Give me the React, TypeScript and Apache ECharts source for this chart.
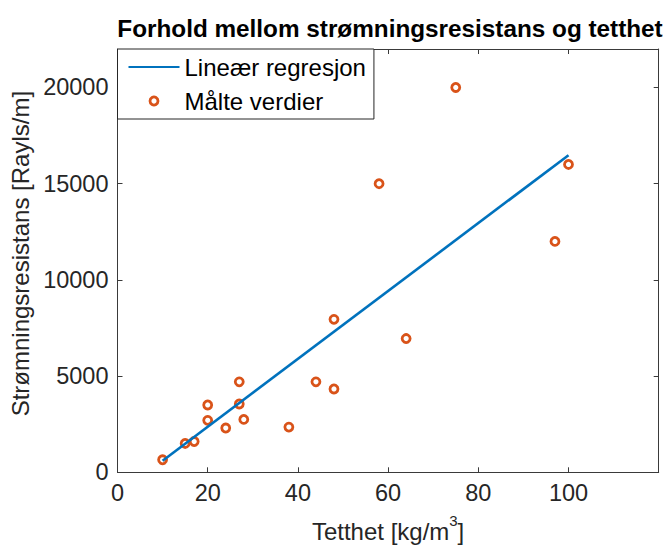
import React, { useEffect, useRef } from 'react';
import * as echarts from 'echarts';

const titleText = 'Forhold mellom strømningsresistans og tetthet';
const xAxisName = 'Tetthet [kg/m';
const yAxisName = 'Strømningsresistans [Rayls/m]';
const seriesNames = ['Lineær regresjon', 'Målte verdier'];

const densities = [10, 15, 17, 20, 20, 24, 27, 27, 28, 38, 44, 48, 48, 58, 64, 75, 97, 100];
const resistances = [650, 1500, 1600, 3500, 2700, 2300, 4700, 3550, 2750, 2350, 4700, 7950, 4330, 15000, 6950, 20000, 12000, 16000];
const regressionX = [10, 100];
const regressionY = [600, 16480];

const xMin = 0;
const xMax = 120;
const xStep = 20;
const xLastLabel = 100;
const yMin = 0;
const yMax = 22000;
const yStep = 5000;
const yLastLabel = 20000;

const FONT = "'Liberation Sans', Arial, Helvetica, sans-serif";
const AX = '#262626';

export default function App() {
  const ref = useRef<HTMLDivElement>(null);
  useEffect(() => {
    if (!ref.current) return;
    const chart = echarts.init(ref.current, null, { renderer: 'svg' });
    const axisLine = { show: true, onZero: false, lineStyle: { color: '#3a3a3a', width: 1 } };
    const axisTick = { show: true, inside: true, length: 5, lineStyle: { color: '#3a3a3a', width: 1 } };
    const option: any = {
      animation: false,
      backgroundColor: '#ffffff',
      grid: { left: 117.5, right: 6.3, top: 49, bottom: 73.7, containLabel: false, outerBoundsMode: 'none' },
      graphic: [
        {
          type: 'text',
          x: 390,
          y: 28,
          style: {
            text: titleText,
            textAlign: 'center',
            textVerticalAlign: 'middle',
            font: `bold 24.3px ${FONT}`,
            fill: '#000000',
          },
        },
      ],
      legend: {
        left: 117.5,
        top: 49,
        orient: 'vertical',
        padding: [5, 8, 5, 10],
        itemGap: 8,
        itemWidth: 51,
        itemHeight: 8,
        backgroundColor: '#ffffff',
        borderColor: AX,
        borderWidth: 1,
        borderRadius: 0,
        textStyle: { fontSize: 24, color: '#000000', lineHeight: 26, fontFamily: FONT },
        data: [
          { name: seriesNames[0], itemStyle: { opacity: 0 } },
          { name: seriesNames[1], icon: 'circle', itemStyle: { color: '#ffffff', borderColor: '#D95319', borderWidth: 2.8 } },
        ],
      },
      xAxis: [
        {
          type: 'value',
          min: xMin,
          max: xMax,
          interval: xStep,
          axisLine,
          axisTick,
          splitLine: { show: false },
          axisLabel: {
            fontSize: 23.5,
            color: AX,
            fontFamily: FONT,
            margin: 9,
            formatter: (v: number) => (v > xLastLabel ? '' : String(v)),
          },
          name: `{n|${xAxisName}}{s|3}{n|]}`,
          nameLocation: 'middle',
          nameGap: 41,
          nameTextStyle: {
            rich: {
              n: { fontSize: 24, color: AX, fontFamily: FONT, lineHeight: 30, verticalAlign: 'bottom' },
              s: { fontSize: 15, color: AX, fontFamily: FONT, lineHeight: 15, verticalAlign: 'top' },
            },
          },
        },
        {
          type: 'value',
          position: 'top',
          min: xMin,
          max: xMax,
          interval: xStep,
          axisLine,
          axisTick,
          splitLine: { show: false },
          axisLabel: { show: false },
        },
      ],
      yAxis: [
        {
          type: 'value',
          min: yMin,
          max: yMax,
          interval: yStep,
          axisLine,
          axisTick,
          splitLine: { show: false },
          axisLabel: {
            fontSize: 23.5,
            color: AX,
            fontFamily: FONT,
            margin: 9,
            formatter: (v: number) => (v > yLastLabel ? '' : String(v)),
          },
          name: yAxisName,
          nameLocation: 'middle',
          nameGap: 80,
          nameTextStyle: { fontSize: 24, color: AX, fontFamily: FONT, padding: [0, 0, 0, 14] },
        },
        {
          type: 'value',
          position: 'right',
          min: yMin,
          max: yMax,
          interval: yStep,
          axisLine,
          axisTick,
          splitLine: { show: false },
          axisLabel: { show: false },
        },
      ],
      series: [
        {
          name: seriesNames[0],
          type: 'line',
          xAxisIndex: 0,
          yAxisIndex: 0,
          data: regressionX.map((x, i) => [x, regressionY[i]]),
          symbol: 'none',
          showSymbol: false,
          lineStyle: { color: '#0072BD', width: 2.6 },
          itemStyle: { color: '#0072BD' },
        },
        {
          name: seriesNames[1],
          type: 'scatter',
          xAxisIndex: 0,
          yAxisIndex: 0,
          data: densities.map((x, i) => [x, resistances[i]]),
          symbol: 'circle',
          symbolSize: 8,
          itemStyle: { color: '#ffffff', borderColor: '#D95319', borderWidth: 2.8, opacity: 1 },
        },
      ],
    };
    chart.setOption(option);
    return () => chart.dispose();
  }, []);
  return (
    <div style={{ position: 'absolute', left: 0, top: 0, width: 665, height: 546, overflow: 'hidden' }}>
      <div ref={ref} style={{ width: 665, height: 546 }} />
    </div>
  );
}
